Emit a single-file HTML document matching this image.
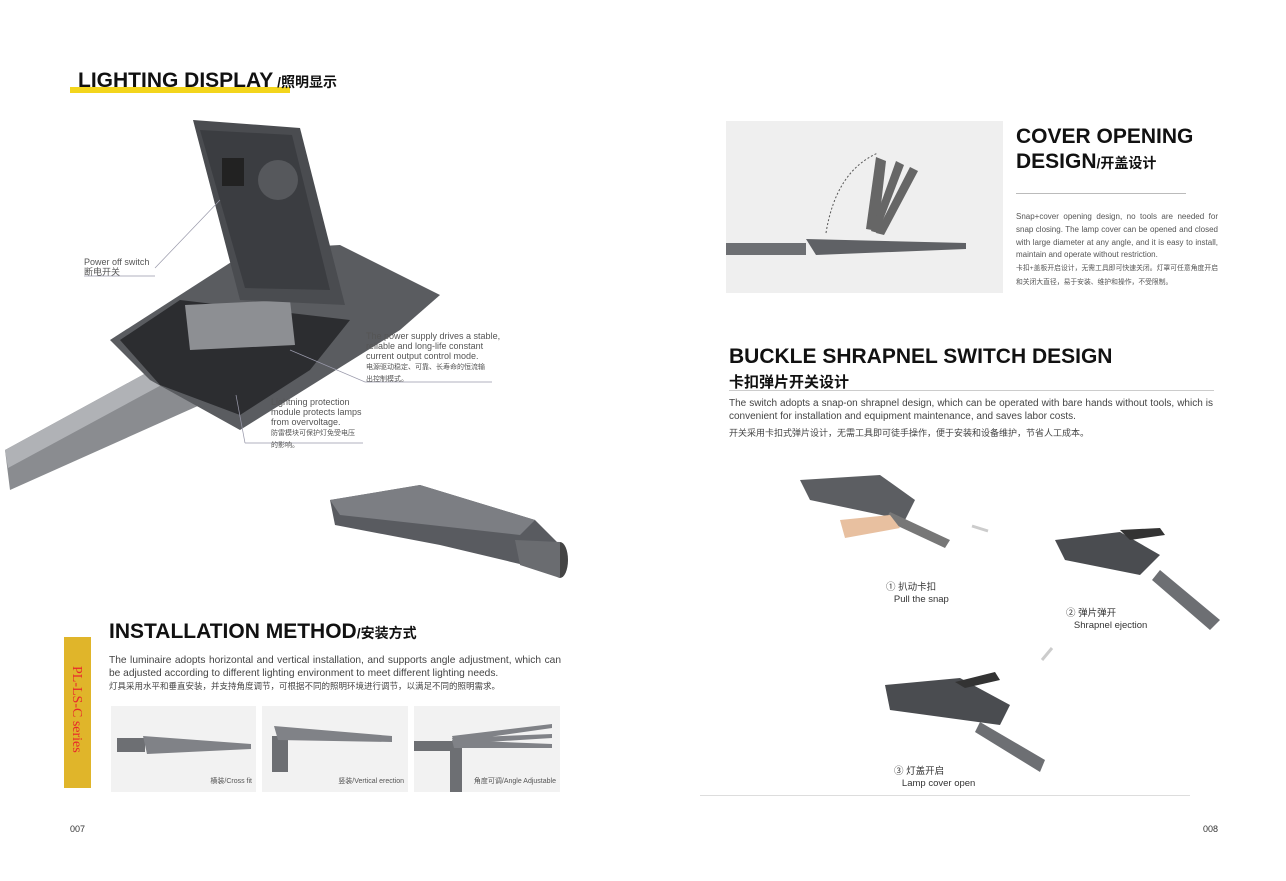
<!DOCTYPE html>
<html><head><meta charset="utf-8"><style>
body{margin:0;width:1286px;height:881px;background:#fff;position:relative;overflow:hidden;font-family:"Liberation Sans","Noto Sans CJK SC",sans-serif;color:#222}
.a{position:absolute;white-space:nowrap}
.h{font-weight:bold;font-size:21px;color:#111;letter-spacing:0}
.h small{font-size:14px}
.s{font-size:9px;color:#555;line-height:10px}
.p{font-size:10.5px;color:#444;line-height:12.5px}
.box{position:absolute;background:#f2f2f2}
.cap{position:absolute;font-size:7px;color:#555;bottom:6px;right:4px}
</style></head><body>
<div class="a" style="left:70px;top:87px;width:220px;height:6px;background:#f3d51c"></div>
<div class="a h" style="left:78px;top:69px">LIGHTING DISPLAY<small> /照明显示</small></div>

<svg class="a" style="left:0;top:110px" width="600" height="480" viewBox="0 110 600 480">
<polygon points="5,450 170,360 200,405 10,490" fill="#8a8c90"/>
<polygon points="5,450 170,360 180,375 8,468" fill="#b0b2b6"/>
<polygon points="110,340 250,250 340,245 440,295 400,330 240,430 150,380" fill="#5a5c60"/>
<polygon points="120,340 180,300 350,320 310,370 240,415 160,385" fill="#2c2d30"/>
<polygon points="185,305 290,300 295,345 190,350" fill="#8d8f93"/>
<polygon points="193,120 300,128 345,305 240,300" fill="#4a4c50"/>
<polygon points="200,130 292,135 330,290 245,288" fill="#3b3d41"/>
<circle cx="278" cy="180" r="20" fill="#56585c"/>
<rect x="222" y="158" width="22" height="28" fill="#222"/>
<polygon points="330,500 420,485 535,520 560,545 545,570 440,545 335,525" fill="#595b60"/>
<polygon points="330,500 420,485 535,520 520,535 340,515" fill="#7c7e83"/>
<ellipse cx="560" cy="560" rx="8" ry="18" fill="#444"/>
<polygon points="515,540 560,542 560,578 520,565" fill="#6a6c70"/>
<line x1="155" y1="268" x2="220" y2="200" stroke="#99a" stroke-width=".7"/>
<line x1="84" y1="276" x2="155" y2="276" stroke="#99a" stroke-width=".7"/>
<line x1="290" y1="350" x2="365" y2="382" stroke="#99a" stroke-width=".7"/>
<line x1="365" y1="382" x2="492" y2="382" stroke="#99a" stroke-width=".7"/>
<line x1="236" y1="395" x2="245" y2="443" stroke="#99a" stroke-width=".7"/>
<line x1="245" y1="443" x2="363" y2="443" stroke="#99a" stroke-width=".7"/>
</svg>
<div class="a s" style="left:84px;top:257px">Power off switch<br>断电开关</div>
<div class="a s" style="left:366px;top:331px">The power supply drives a stable,<br>reliable and long-life constant<br>current output control mode.<br><span style="font-size:7px">电源驱动稳定、可靠、长寿命的恒流输<br>出控制模式。</span></div>
<div class="a s" style="left:271px;top:397px">Lightning protection<br>module protects lamps<br>from overvoltage.<br><span style="font-size:7px">防雷模块可保护灯免受电压<br>的影响。</span></div>

<div class="a" style="left:64px;top:637px;width:27px;height:151px;background:#e0b52a"></div>
<div class="a" style="left:68px;top:666px;writing-mode:vertical-rl;font-family:'Liberation Serif',serif;color:#e8282b;font-size:14px">PL-LS-C series</div>
<div class="a h" style="left:109px;top:620px">INSTALLATION METHOD<small>/安装方式</small></div>
<div class="a p" style="left:109px;top:655px;width:452px;white-space:normal;text-align:justify;font-size:10.2px">The luminaire adopts horizontal and vertical installation, and supports angle adjustment, which can be adjusted according to different lighting environment to meet different lighting needs.<br><span style="font-size:8.5px">灯具采用水平和垂直安装，并支持角度调节，可根据不同的照明环境进行调节，以满足不同的照明需求。</span></div>
<div class="box" style="left:111px;top:706px;width:145px;height:86px"><svg width="145" height="86"><rect x="6" y="32" width="28" height="14" fill="#6d6f73"/><polygon points="32,30 140,38 140,43 36,48" fill="#808287"/></svg><div class="cap">横装/Cross fit</div></div>
<div class="box" style="left:262px;top:706px;width:146px;height:86px"><svg width="146" height="86"><rect x="10" y="30" width="16" height="36" fill="#6d6f73"/><polygon points="12,20 130,30 130,36 16,34" fill="#808287"/></svg><div class="cap">竖装/Vertical erection</div></div>
<div class="box" style="left:414px;top:706px;width:146px;height:86px"><svg width="146" height="86"><rect x="0" y="35" width="40" height="10" fill="#6d6f73"/><rect x="36" y="42" width="12" height="44" fill="#6d6f73"/><polygon points="38,30 138,18 138,22 40,36" fill="#808287"/><polygon points="38,32 138,28 138,32 40,38" fill="#808287"/><polygon points="38,34 138,38 138,42 40,42" fill="#808287"/></svg><div class="cap">角度可调/Angle Adjustable</div></div>
<div class="a" style="left:70px;top:824px;font-size:9px;color:#333">007</div>

<div class="box" style="left:726px;top:121px;width:277px;height:172px;background:#efefef">
<svg width="277" height="172"><rect x="0" y="122" width="80" height="12" fill="#6d6f73"/><polygon points="80,118 240,122 240,128 90,134" fill="#5f6165"/><polygon points="140,108 150,36 160,40 152,110" fill="#666"/><polygon points="145,110 170,40 178,44 152,112" fill="#666"/><polygon points="150,112 184,46 192,50 158,114" fill="#666"/><path d="M100,112 Q110,50 152,32" fill="none" stroke="#555" stroke-dasharray="2,2"/></svg></div>
<div class="a h" style="left:1016px;top:124px;line-height:25px">COVER OPENING<br>DESIGN<small>/开盖设计</small></div>
<div class="a" style="left:1016px;top:193px;width:170px;height:1px;background:#bbb"></div>
<div class="a" style="left:1016px;top:211px;width:202px;font-size:8px;color:#555;line-height:12.8px;white-space:normal;text-align:justify">Snap+cover opening design, no tools are needed for snap closing. The lamp cover can be opened and closed with large diameter at any angle, and it is easy to install, maintain and operate without restriction.<br><span style="font-size:6.8px">卡扣+盖板开启设计，无需工具即可快速关闭。灯罩可任意角度开启和关闭大直径，易于安装、维护和操作，不受限制。</span></div>

<div class="a h" style="left:729px;top:345px;line-height:24px">BUCKLE SHRAPNEL SWITCH DESIGN<br><small style="font-size:15px">卡扣弹片开关设计</small></div>
<div class="a" style="left:729px;top:390px;width:485px;height:1px;background:#ccc"></div>
<div class="a p" style="left:729px;top:398px;width:484px;white-space:normal;text-align:justify;font-size:10px">The switch adopts a snap-on shrapnel design, which can be operated with bare hands without tools, which is convenient for installation and equipment maintenance, and saves labor costs.<br><span style="font-size:9px;line-height:20px">开关采用卡扣式弹片设计，无需工具即可徒手操作，便于安装和设备维护，节省人工成本。</span></div>

<svg class="a" style="left:780px;top:460px" width="450" height="320">
<polygon points="20,20 100,15 135,40 125,60 30,40" fill="#5c5e62"/>
<polygon points="110,52 170,80 165,88 105,60" fill="#777"/>
<polygon points="60,60 110,55 120,68 65,78" fill="#e8c0a0"/>
<polygon points="275,80 340,72 380,95 360,115 285,100" fill="#4a4c50"/>
<polygon points="340,70 380,68 385,75 350,80" fill="#333"/>
<polygon points="380,110 440,160 430,170 372,120" fill="#6d6f73"/>
<polygon points="105,225 180,218 230,245 220,265 110,250" fill="#4a4c50"/>
<polygon points="175,222 215,212 220,220 185,228" fill="#333"/>
<polygon points="200,262 265,300 260,312 195,272" fill="#6d6f73"/>
<path d="M192,66 l16,5 M262,200 l10,-12" stroke="#ccc" stroke-width="3"/>
</svg>
<div class="a" style="left:886px;top:582px;font-size:9.5px;color:#333;line-height:11.5px">① 扒动卡扣<br>&nbsp;&nbsp;&nbsp;Pull the snap</div>
<div class="a" style="left:1066px;top:608px;font-size:9.5px;color:#333;line-height:11.5px">② 弹片弹开<br>&nbsp;&nbsp;&nbsp;Shrapnel ejection</div>
<div class="a" style="left:894px;top:766px;font-size:9.5px;color:#333;line-height:11.5px">③ 灯盖开启<br>&nbsp;&nbsp;&nbsp;Lamp cover open</div>
<div class="a" style="left:700px;top:795px;width:490px;height:1px;background:#ddd"></div>
<div class="a" style="left:1203px;top:824px;font-size:9px;color:#333">008</div>
</body></html>
